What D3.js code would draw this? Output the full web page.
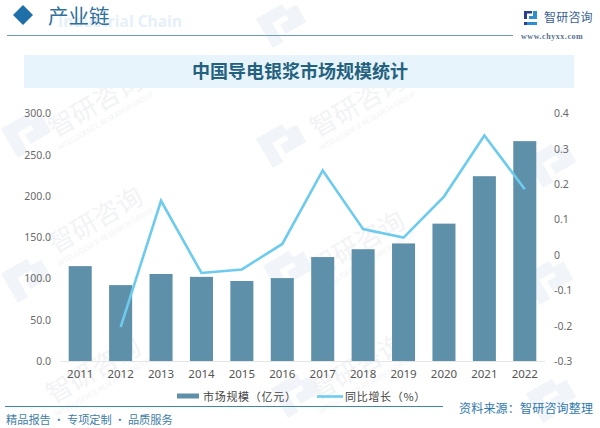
<!DOCTYPE html>
<html>
<head>
<meta charset="utf-8">
<script src="https://cdn.jsdelivr.net/npm/d3@7"></script>
<style>
  html, body { margin: 0; padding: 0; background: #fff; }
  text { font-family: "Noto Sans CJK SC", "Noto Sans", sans-serif; }
</style>
</head>
<body>
<svg id="chart" width="600" height="428"></svg>
<script>
const years = ['2011', '2012', '2013', '2014', '2015', '2016', '2017', '2018', '2019', '2020', '2021', '2022'];
const marketSize = [115, 92, 105.5, 102, 97, 100.5, 126, 135.5, 142.5, 166.5, 224, 266.5];
const growth = [null, -0.204, 0.153, -0.051, -0.041, 0.031, 0.239, 0.073, 0.049, 0.165, 0.338, 0.186];
const leftTicks = [0, 50, 100, 150, 200, 250, 300];
const rightTicks = [-0.3, -0.2, -0.1, 0, 0.1, 0.2, 0.3, 0.4];
const wmTexts = [[100, 112], [100, 228], [362, 112], [362, 252], [98, 378], [362, 375]];
const wmLogos = [[30, 135], [285, 145], [555, 165], [30, 280], [292, 272], [552, 282], [285, 25], [555, 400], [300, 395]];

const svg = d3.select('#chart');
const darkBlue = '#1f6fa8';

// watermarks go first so everything else sits on top
const wm = svg.append('g').attr('class', 'watermarks');
wmLogos.forEach(([x, y]) => {
  wm.append('path')
      .attr('transform', `translate(${x},${y}) rotate(-30)`)
      .attr('d', 'M-22,-20H8V-8H-10V14H-22ZM-4,-3H6V-12H20V8H-4Z')
      .attr('fill', '#f1f5f9');
});
wmTexts.forEach(([x, y]) => {
  const g = wm.append('g').attr('transform', `translate(${x},${y}) rotate(-30)`);
  g.append('text').text('智研咨询')
      .attr('text-anchor', 'middle')
      .attr('font-size', 26)
      .attr('fill', '#f2f3f5');
  g.append('text').text('INTELLIGENCE RESEARCH GROUP')
      .attr('text-anchor', 'middle')
      .attr('y', 13)
      .attr('font-size', 7)
      .attr('fill', '#f2f3f5');
});

// page header
svg.append('text').text('Industrial Chain')
    .attr('x', 58).attr('y', 27)
    .attr('font-size', 15.5).attr('font-weight', 700)
    .attr('fill', '#e6f0f8')
    .style('font-family', '"Open Sans", sans-serif');
svg.append('path')
    .attr('d', 'M13,15L23,5L33,15L23,25Z')
    .attr('fill', darkBlue);
svg.append('text').text('产业链')
    .attr('x', 48).attr('y', 24)
    .attr('font-size', 20.5)
    .attr('fill', '#2f6f9b');
svg.append('line')
    .attr('x1', 7).attr('x2', 513).attr('y1', 35.5).attr('y2', 35.5)
    .attr('stroke', '#6f9cb5').attr('stroke-width', 1);

// logo
const logo = svg.append('g').attr('transform', 'translate(524,11)');
logo.append('path').attr('d', 'M0,0H8V2.5H3V8H0ZM0,11H3V14H0Z').attr('fill', '#2b3f8f');
logo.append('path').attr('d', 'M5,5H9V0H13V8H5ZM3,14V11H13V14Z').attr('fill', '#2e8fd0');
svg.append('text').text('智研咨询')
    .attr('x', 544).attr('y', 22)
    .attr('font-size', 12).attr('letter-spacing', 0.2)
    .attr('fill', '#3a5f95');
svg.append('text').text('www.chyxx.com')
    .attr('x', 521).attr('y', 39)
    .attr('font-size', 8).attr('font-weight', 700).attr('letter-spacing', 0.55)
    .attr('fill', '#55708f')
    .style('font-family', '"Liberation Serif", serif');

// title band
svg.append('rect')
    .attr('x', 24).attr('y', 55).attr('width', 550).attr('height', 33)
    .attr('fill', '#e8f4fb');
svg.append('text').text('中国导电银浆市场规模统计')
    .attr('x', 300).attr('y', 78)
    .attr('text-anchor', 'middle')
    .attr('font-size', 18).attr('font-weight', 700)
    .attr('fill', '#24617f');

// scales
const x = d3.scaleBand().domain(years).range([60, 545]).paddingInner(0.43).paddingOuter(0.215);
const yLeft = d3.scaleLinear().domain([0, 300]).range([361, 113.5]);
const yRight = d3.scaleLinear().domain([-0.3, 0.4]).range([361, 113.5]);

// bars
svg.append('g').selectAll('rect')
    .data(marketSize)
    .enter()
    .append('rect')
    .attr('x', (d, i) => x(years[i]))
    .attr('y', (d) => yLeft(d))
    .attr('width', x.bandwidth())
    .attr('height', (d) => yLeft(0) - yLeft(d))
    .attr('fill', '#5f90aa');

// growth line
const line = d3.line()
    .defined((d) => d !== null)
    .x((d, i) => x(years[i]) + x.bandwidth() / 2)
    .y((d) => yRight(d));
svg.append('path')
    .attr('d', line(growth))
    .attr('fill', 'none')
    .attr('stroke', '#6dcbee')
    .attr('stroke-width', 2.6)
    .attr('stroke-linejoin', 'miter');

// axes
const styleAxis = (g) => {
  g.select('.domain').remove();
  g.selectAll('.tick line').remove();
  g.selectAll('text')
      .attr('font-size', 10.5)
      .attr('fill', '#6a6a6a')
      .style('font-family', '"Noto Sans", sans-serif');
};
svg.append('g')
    .attr('transform', 'translate(51,0)')
    .call(d3.axisLeft(yLeft).tickValues(leftTicks).tickSize(0).tickPadding(0).tickFormat(d3.format('.1f')))
    .call(styleAxis);
svg.append('g')
    .attr('transform', 'translate(554,0)')
    .call(d3.axisRight(yRight).tickValues(rightTicks).tickSize(0).tickPadding(0).tickFormat((d) => String(d)))
    .call(styleAxis);
svg.append('g')
    .attr('transform', 'translate(0,370)')
    .call(d3.axisBottom(x).tickSize(0).tickPadding(0))
    .call(styleAxis)
    .selectAll('text').attr('fill', '#555').attr('font-size', 11.5);
svg.append('line')
    .attr('x1', 60).attr('x2', 545).attr('y1', 361.5).attr('y2', 361.5)
    .attr('stroke', '#e6e6e6');

// legend
svg.append('rect')
    .attr('x', 177).attr('y', 393.5).attr('width', 22).attr('height', 5)
    .attr('fill', '#5f90aa');
svg.append('text').text('市场规模（亿元）')
    .attr('x', 203).attr('y', 401)
    .attr('font-size', 11).attr('letter-spacing', 0.7)
    .attr('fill', '#444');
svg.append('line')
    .attr('x1', 317).attr('x2', 343).attr('y1', 396.5).attr('y2', 396.5)
    .attr('stroke', '#6dcbee').attr('stroke-width', 2.6);
svg.append('text').text('同比增长（%）')
    .attr('x', 345).attr('y', 401)
    .attr('font-size', 11).attr('letter-spacing', 0.7)
    .attr('fill', '#444');

// footer
svg.append('line')
    .attr('x1', 5).attr('x2', 443).attr('y1', 406.5).attr('y2', 406.5)
    .attr('stroke', '#3f86ad').attr('stroke-width', 1);
svg.append('text').text('精品报告 · 专项定制 · 品质服务')
    .attr('x', 6).attr('y', 424)
    .attr('font-size', 11.2)
    .attr('fill', '#3f7ea6');
svg.append('text').text('资料来源：智研咨询整理')
    .attr('x', 459).attr('y', 413)
    .attr('font-size', 12).attr('letter-spacing', 0.2)
    .attr('fill', '#2f78ad');
</script>
</body>
</html>
